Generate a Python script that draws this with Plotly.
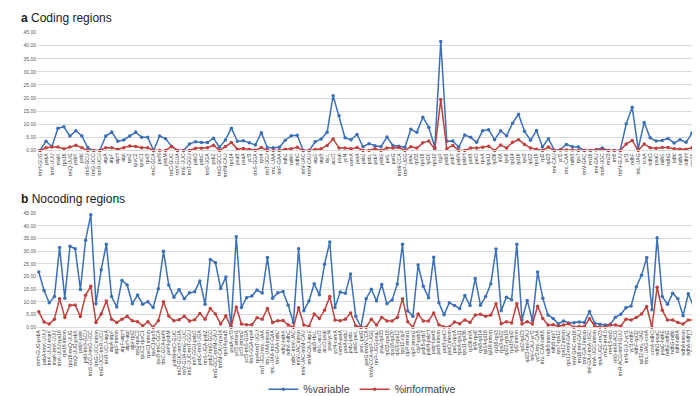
import plotly.graph_objects as go

# ---------------- data ----------------
coding_genes = [
    "trnH-GUG", "psbA", "trnK-UUU", "matK", "rps16", "trnQ-UUG", "psbK", "psbI", "trnS-GCU", "trnG-UCC",
    "trnR-UCU", "atpA", "atpF", "atpH", "atpI", "rps2", "rpoC2", "rpoC1", "rpoB", "trnC-GCA",
    "petN", "psbM", "trnD-GUC", "trnY-GUA", "trnE-UUC", "trnT-GGU", "psbD", "psbC", "trnS-UGA", "psbZ",
    "trnG-GCC", "trnfM-CAU", "rps14", "psaB", "psaA", "ycf3", "trnS-GGA", "rps4", "trnT-UGU", "trnL-UAA",
    "trnF-GAA", "ndhJ", "ndhK", "ndhC", "trnV-UAC", "trnM-CAU", "atpE", "atpB", "rbcL", "accD",
    "psaI", "ycf4", "cemA", "petA", "psbJ", "psbL", "psbF", "psbE", "petL", "petG",
    "trnW-CCA", "trnP-UGG", "psaJ", "rpl33", "rps18", "rpl20", "rps12", "clpP", "psbB", "psbT",
    "psbN", "psbH", "petB", "petD", "rpoA", "rps11", "rpl36", "infA", "rps8", "rpl14",
    "rpl16", "rps3", "rpl22", "rps19", "rpl2", "rpl23", "trnI-CAU", "ycf2", "trnL-CAA", "ndhB",
    "rps7", "trnV-GAC", "rrn16", "trnI-GAU", "trnA-UGC", "rrn23", "rrn5", "trnN-GUU", "ycf1", "ndhF",
    "trnL-UAG", "ccsA", "ndhD", "psaC", "ndhE", "ndhG", "ndhI", "ndhA", "ndhH", "rps15",
    "ycf1",
]
coding_variable = [
    0, 3.5, 1.5, 8.5, 9, 5.5, 7.5, 5.5, 1, 0,
    0, 5.5, 7, 3.5, 4, 5.5, 7, 5, 5, 0,
    5.5, 4.5, 1.5, 0, 0, 2.5, 3.3, 3, 3, 4.7,
    1.2, 4, 8.5, 3.5, 3.7,
    2.9, 2.1, 6.8, 1.1, 1.0, 1.2, 3.9, 5.6, 5.8, 0,
    0, 3.3, 4.4, 6.9, 20.9, 13.2, 4.8, 4.1, 6.1, 1.4,
    2.6, 1.8, 1.4, 5.1, 1.9, 1.6, 1.2, 8.1, 6.9, 12.7,
    8.8, 1.2, 41.6, 3.5, 3.6, 1.2, 5.9,
    5.0, 3.1, 7.5, 7.9, 4.1, 7.5, 5.6, 10.4, 13.8, 7.3,
    3.9, 7.6, 1.3, 4.5, 0, 0.3, 2.3, 1.4, 1.3, 0,
    0, 0.3, 0.9, 0, 0, 0, 10.2, 16.5, 0.6, 10.7,
    4.8, 3.6, 3.8, 4.6, 2.8, 4.1, 3.1, 6.6, 15.7,
]
coding_informative = [
    0, 1, 1.3, 1.3, 0.6, 1.3, 2, 1, 0, 0,
    0, 1, 1, 0.5, 1, 1.7, 1.5, 1, 1, 0,
    0, 0, 1.5, 0, 0, 0, 0.8, 0.8, 1, 2,
    0, 1.5, 3, 0.5, 0.7,
    0.4, 0.1, 1.1, 0, 0, 0, 0.5, 0.6, 1.2, 0,
    0, 0.4, 0.6, 1.9, 4.4, 0.9, 0.9, 0.6, 1.1, 0,
    0, 0.6, 0, 0.9, 0.9, 1.1, 0, 1.4, 0.9, 2.9,
    3.6, 0.4, 19.4, 0.6, 1.9, 0, 0,
    0.9, 0.9, 1.2, 1.6, 0, 2.1, 0.9, 3.1, 4.1, 2.3,
    0.9, 0.5, 0, 1.3, 0, 0.2, 0.2, 0.2, 0, 0,
    0, 0.3, 0.3, 0, 0, 0, 2.5, 3.8, 0, 2.5,
    1.0, 0.8, 1.1, 1.1, 0.6, 0.5, 0.5, 1.0, 4.6,
]

noncoding_regions = [
    "trnH-GUG-psbA", "psbA-trnK-UUU", "trnK-UUU-matK", "matK-trnK-UUU", "trnK-UUU-rps16",
    "rps16 intron", "rps16-trnQ-UUG", "trnQ-UUG-psbK", "psbK-psbI", "psbI-trnS-GCU",
    "trnS-GCU-trnG-UCC", "trnG-UCC intron", "trnG-UCC-trnR-UCU", "trnR-UCU-atpA", "atpA-atpF",
    "atpF intron", "atpF-atpH", "atpH-atpI", "atpI-rps2", "rps2-rpoC2",
    "rpoC2-rpoC1", "rpoC1 intron", "rpoC1-rpoB", "rpoB-trnC-GCA", "trnC-GCA-petN",
    "petN-psbM", "psbM-trnD-GUC", "trnD-GUC-trnY-GUA", "trnY-GUA-trnE-UUC", "trnE-UUC-trnT-GGU",
    "trnT-GGU-psbD", "psbC-trnS-UGA", "trnS-UGA-psbZ", "psbZ-trnG-GCC", "trnG-GCC-trnfM-CAU",
    "trnfM-CAU-rps14", "rps14-psaB", "psaA-ycf3", "ycf3 intron1", "ycf3 intron2",
    "ycf3-trnS-GGA", "trnS-GGA-rps4", "rps4-trnT-UGU", "trnT-UGU-trnL-UAA", "trnL-UAA intron",
    "trnL-UAA-trnF-GAA", "trnF-GAA-ndhJ", "ndhJ-ndhK", "ndhK-ndhC", "ndhC-trnV-UAC",
    "trnV-UAC intron", "trnV-UAC-trnM-CAU", "trnM-CAU-atpE", "atpB-rbcL", "rbcL-accD",
    "accD-psaI", "psaI-ycf4", "ycf4-cemA", "cemA-petA", "petA-psbJ",
    "psbJ-psbL", "psbE-petL", "petL-petG", "petG-trnW-CCA", "trnW-CCA-trnP-UGG",
    "trnP-UGG-psaJ", "psaJ-rpl33", "rpl33-rps18", "rps18-rpl20", "rpl20-rps12",
    "rps12-clpP", "clpP intron1", "clpP intron2", "clpP-psbB", "psbB-psbT",
    "psbN-psbH", "psbH-petB", "petB intron", "petB-petD", "petD intron",
    "petD-rpoA", "rpoA-rps11", "rps11-rpl36", "rpl36-infA", "infA-rps8",
    "rps8-rpl14", "rpl14-rpl16", "rpl16 intron", "rpl16-rps3", "rps3-rpl22",
    "rpl22-rps19", "rps19-rpl2", "rpl2 intron", "rpl2-rpl23", "rpl23-trnI-CAU",
    "trnI-CAU-ycf2", "ycf2-trnL-CAA", "trnL-CAA-ndhB", "ndhB intron", "ndhB-rps7",
    "rps7-rps12", "rps12 intron", "rps12-trnV-GAC", "trnV-GAC-rrn16", "rrn16-trnI-GAU",
    "trnI-GAU intron", "trnI-GAU-trnA-UGC", "trnA-UGC intron", "trnA-UGC-rrn23", "rrn23-rrn4.5",
    "rrn4.5-rrn5", "rrn5-trnR-ACG", "trnR-ACG-trnN-GUU", "trnN-GUU-ycf1", "ycf1-ndhF",
    "ndhF-rpl32", "rpl32-trnL-UAG", "trnL-UAG-ccsA", "ccsA-ndhD", "ndhD-psaC",
    "psaC-ndhE", "ndhE-ndhG", "ndhG-ndhI", "ndhI-ndhA", "ndhA intron",
    "ndhA-ndhH", "ndhH-rps15", "rps15-ycf1",
]
noncoding_variable = [
    21.8, 14.5, 9.7, 12.1, 31.5, 11.5, 32.0, 31.0, 14.9, 34.4,
    44.4, 9.3, 22.7, 32.8, 12.1, 8.0, 18.5, 16.7, 9.3, 12.7,
    9.1, 10.1, 7.8, 15.2, 30.0, 16.7, 11.9, 14.9, 11.3, 13.6,
    14.0, 18.3, 9.1, 26.8, 25.5, 15.3, 19.8, 0.3, 35.7, 7.8,
    11.7,
    12.3, 14.7, 13.5, 27.5, 11.5, 13.6, 14.1, 8.7, 1.9, 31.0,
    6.5, 10.4, 17.2, 12.8, 24.9, 33.7, 7.8, 13.9, 13.4, 21.0,
    4.3, 0.0, 11.3, 15.0, 10.4, 16.9, 9.3, 10.8, 17.1, 32.8,
    6.5, 4.3, 24.6, 16.2, 11.7, 27.6, 9.7, 4.9, 9.7, 8.6,
    7.4, 12.5, 8.6, 19.3,
    8.7, 12.1, 17.2, 30.9, 6.5, 11.9, 10.9, 32.8, 2.9, 10.6,
    2.7, 21.8, 11.5, 4.8, 3.5, 1.3, 2.5, 1.7, 1.8, 2.1,
    1.9, 6.2, 1.6, 1.2, 0.9, 1.2, 4.0, 5.1, 7.7, 8.4,
    16.0, 20.5, 27.5, 6.9, 35.3, 12.1, 9.1, 13.4, 11.3, 4.5,
    13.2, 8.4, 12.6,
]
noncoding_informative = [
    6.1, 2.1, 1.3, 3.2, 11.3, 3.9, 8.7, 8.8, 4.2, 12.6,
    16.2, 1.9, 5.2, 10.4, 3.2, 1.9, 3.2, 4.3, 2.6, 2.2,
    0.6, 2.2, 0.0, 2.6, 10.1, 4.4, 2.6, 3.0, 4.3, 2.5,
    3.0, 5.4, 3.2, 7.4, 5.2, 1.3, 4.5, 0.0, 8.0, 1.3,
    1.0,
    1.0, 3.8, 3.2, 7.4, 1.9, 2.6, 2.7, 0.9, 0.0, 7.7,
    0.9, 0.4, 5.2, 3.5, 6.7, 12.1, 2.9, 2.6, 3.2, 5.6,
    0.6, 0.0, 0.0, 3.2, 0.9, 3.9, 2.5, 2.5, 3.9, 11.3,
    2.2, 0.0, 5.2, 2.5, 2.5, 5.6, 1.0, 0.1, 0.1, 2.1,
    1.4, 2.9, 1.9, 4.8,
    5.1, 4.3, 4.8, 9.3, 1.4, 2.2, 1.7, 9.3, 1.3, 2.2,
    1.3, 8.3, 3.5, 0.9, 1.0, 0.4, 0.9, 1.4, 0.0, 0.3,
    0.3, 3.4, 0.4, 0.1, 0.1, 0.9, 0.9, 0.4, 3.2, 2.9,
    3.9, 5.2, 8.2, 0.0, 15.8, 6.7, 2.9, 2.9, 1.9, 1.3,
    2.9, 2.9, 2.3,
]

y_ticks = [0, 5, 10, 15, 20, 25, 30, 35, 40, 45]
series_names = ["%variable", "%informative"]
panel_titles = ["<b>a</b> Coding regions", "<b>b</b> Nocoding regions"]

# ---------------- styling ----------------
BLUE = "#3b6fb6"
RED = "#c0403d"
GRID = "#d9d9d9"
TXT = "#595959"
FONT = "Liberation Sans, Arial, sans-serif"
W, H = 700, 396
ML, MR = 29, 7


def ydom(top_px, bottom_px):
    return [1 - bottom_px / H, 1 - top_px / H]


fig = go.Figure()

panels = [
    (coding_genes, coding_variable, coding_informative, "x", "y"),
    (noncoding_regions, noncoding_variable, noncoding_informative, "x2", "y2"),
]
for p, (labels, var, inf, xa, ya) in enumerate(panels):
    xs = list(range(len(labels)))
    for name, vals, col in ((series_names[0], var, BLUE), (series_names[1], inf, RED)):
        fig.add_trace(go.Scatter(
            x=xs, y=vals, xaxis=xa, yaxis=ya, name=name, legendgroup=name,
            showlegend=(p == 0), mode="lines+markers", cliponaxis=False,
            line=dict(color=col, width=1.5),
            marker=dict(color=col, size=3.5, symbol="circle"),
        ))

common_x = dict(
    tickmode="array", tickangle=-90, showgrid=False, zeroline=False,
    showline=True, linecolor=GRID, linewidth=1, ticks="",
    tickfont=dict(family=FONT, size=5, color="#404040"), automargin=False,
)
common_y = dict(
    range=[0, 45], tickmode="array", tickvals=y_ticks, tickformat=".2f",
    showgrid=True, gridcolor=GRID, gridwidth=1, zeroline=False, showline=False,
    ticks="", tickfont=dict(family=FONT, size=5, color=TXT), automargin=False,
)

fig.update_layout(
    width=W, height=H,
    margin=dict(l=ML, r=MR, t=0, b=0),
    paper_bgcolor="white", plot_bgcolor="white",
    font=dict(family=FONT, color=TXT),
    xaxis=dict(common_x, domain=[0, 1], anchor="y",
               tickvals=list(range(len(coding_genes))), ticktext=coding_genes,
               range=[-0.5, len(coding_genes) - 0.5]),
    yaxis=dict(common_y, domain=ydom(25, 145), anchor="x"),
    xaxis2=dict(common_x, domain=[0, 1], anchor="y2",
                tickvals=list(range(len(noncoding_regions))), ticktext=noncoding_regions,
                range=[-0.35, len(noncoding_regions) - 0.55]),
    yaxis2=dict(common_y, domain=ydom(209, 325), anchor="x2"),
    legend=dict(orientation="h", x=0.49, xanchor="center", y=(H - 388) / H, yanchor="middle",
                font=dict(family=FONT, size=10.5, color="#404040"),
                bgcolor="rgba(0,0,0,0)", itemwidth=30, tracegroupgap=0),
    showlegend=True,
)

for title, ypx in zip(panel_titles, (10, 194)):
    fig.add_annotation(
        text=title, xref="paper", yref="paper",
        x=(11 - ML) / (W - ML - MR), y=(H - ypx) / H,
        xanchor="left", yanchor="middle", showarrow=False,
        font=dict(family=FONT, size=12, color="#1a1a1a"),
    )

fig.write_html("out.html")
